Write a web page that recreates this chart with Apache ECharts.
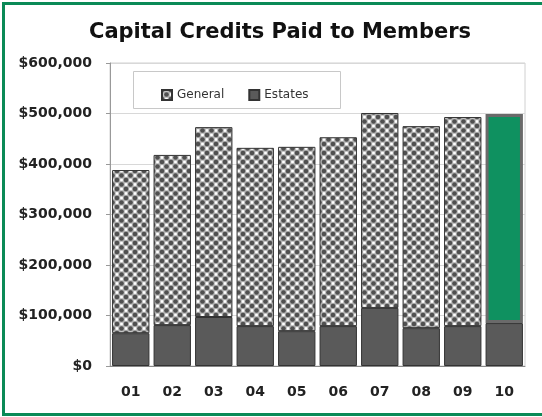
<!DOCTYPE html>
<html>
<head>
<meta charset="utf-8">
<script src="https://cdn.jsdelivr.net/npm/echarts@6/dist/echarts.min.js"></script>
<style>
  html, body { margin: 0; padding: 0; background: #fff; overflow: hidden; }
  #chart { width: 542px; height: 417px; }
</style>
</head>
<body>
<div id="chart"></div>
<script>
// Capital credits paid per year, split into general retirements and estates
const years = ['01', '02', '03', '04', '05', '06', '07', '08', '09', '10'];
const estates = [65000, 81000, 97000, 79000, 69000, 79000, 115000, 75000, 79000, 85000];
const general = [323000, 337000, 376000, 353000, 365000, 374000, 386000, 400000, 414000, 414000];
const yTicks = [0, 100000, 200000, 300000, 400000, 500000, 600000];

// Dotted fill for the "General" series
function dotPattern() {
  const s = 9;
  const c = document.createElement('canvas');
  c.width = s; c.height = s;
  const g = c.getContext('2d');
  g.fillStyle = '#b0b0b0';
  g.fillRect(0, 0, s, s);
  g.fillStyle = '#505050';
  const h = s / 2;
  [[0, 0], [s, 0], [0, s], [s, s], [h, h]].forEach(p => {
    g.beginPath(); g.arc(p[0], p[1], 2.3, 0, Math.PI * 2); g.fill();
  });
  g.fillStyle = '#ffffff';
  g.fillRect(h - 1.3, -1.3, 2.6, 2.6);
  g.fillRect(h - 1.3, s - 1.3, 2.6, 2.6);
  g.fillRect(-1.3, h - 1.3, 2.6, 2.6);
  g.fillRect(s - 1.3, h - 1.3, 2.6, 2.6);
  return c;
}
const pattern = { image: dotPattern(), repeat: 'repeat' };

const fmt = v => '$' + v.toLocaleString('en-US');
const font = 'DejaVu Sans';

const generalData = general.map((v, i) => i === years.length - 1
  ? { value: v, itemStyle: { color: '#0f9160', borderColor: '#6a6a6a', borderWidth: 3 } }
  : v);

const chart = echarts.init(document.getElementById('chart'), null, { renderer: 'canvas' });
chart.setOption({
  animation: false,
  backgroundColor: '#ffffff',
  title: {
    text: 'Capital Credits Paid to Members',
    left: 84,
    top: 17,
    textStyle: { fontFamily: font, fontSize: 21, fontWeight: 'bold', color: '#111' }
  },
  legend: {
    data: ['General', 'Estates'],
    left: 156,
    top: 84,
    itemWidth: 10,
    itemHeight: 10,
    itemGap: 24,
    icon: 'rect',
    textStyle: { fontFamily: font, fontSize: 12, color: '#333' }
  },
  grid: {
    left: 110, right: 17, top: 63, bottom: 51,
    show: true, borderColor: '#d0d0d0', borderWidth: 1
  },
  xAxis: {
    type: 'category',
    data: years,
    axisTick: { show: false },
    axisLine: { lineStyle: { color: '#888', width: 1 } },
    axisLabel: { fontFamily: font, fontSize: 14, fontWeight: 'bold', color: '#222', margin: 19 }
  },
  yAxis: {
    type: 'value',
    min: yTicks[0],
    max: yTicks[yTicks.length - 1],
    interval: 100000,
    axisLine: { show: true, lineStyle: { color: '#999' } },
    axisTick: { show: true, length: 4, lineStyle: { color: '#999' } },
    splitLine: { lineStyle: { color: '#d8d8d8' } },
    axisLabel: { fontFamily: font, fontSize: 14, fontWeight: 'bold', color: '#222', margin: 18, formatter: fmt }
  },
  series: [
    {
      name: 'Estates',
      type: 'bar',
      stack: 'total',
      data: estates,
      barCategoryGap: '10%',
      itemStyle: { color: '#5a5a5a', borderColor: '#333', borderWidth: 1 }
    },
    {
      name: 'General',
      type: 'bar',
      stack: 'total',
      data: generalData,
      barCategoryGap: '10%',
      itemStyle: { color: pattern, borderColor: '#333', borderWidth: 1 }
    }
  ],
  graphic: [
    {
      type: 'rect',
      shape: { x: 133.5, y: 71.5, width: 207, height: 37 },
      style: { fill: null, stroke: '#c8c8c8', lineWidth: 1 },
      z: 10
    },
    {
      type: 'polyline',
      shape: { points: [[700, 3.5], [3.5, 3.5], [3.5, 414.5], [700, 414.5]] },
      style: { fill: null, stroke: '#0b8a57', lineWidth: 3 },
      z: 20
    }
  ]
});
</script>
</body>
</html>
